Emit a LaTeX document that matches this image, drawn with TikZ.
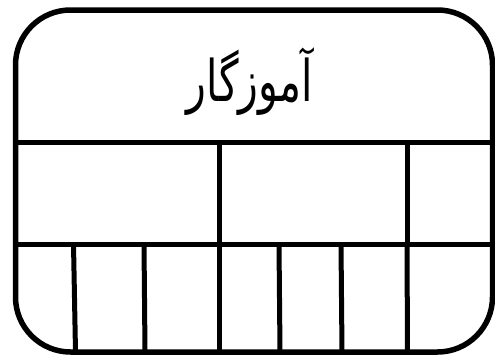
\documentclass[tikz,border=0pt]{standalone}
\usepackage{fontspec}
\newfontfamily\arabicfont[Script=Arabic]{DejaVu Sans}
\TeXXeTstate=1
\begin{document}
\begin{tikzpicture}[x=1pt,y=-1pt,
  frame/.style={draw=black,line width=5.5pt,rounded corners=55pt},
  divider/.style={draw=black,line width=5pt},
  title/.style={font=\arabicfont\fontsize{41}{48}\selectfont,inner sep=0pt}]
\useasboundingbox (0,0) rectangle (495,356);
\coordinate (tl) at (15.5,10);
\coordinate (br) at (492.5,352);
\draw[frame] (tl) rectangle (br);
% horizontal dividers
\coordinate (h1l) at (15.5,142); \coordinate (h1r) at (492.5,142);
\coordinate (h2l) at (15.5,244); \coordinate (h2r) at (492.5,244);
\draw[divider] (h1l) -- (h1r);
\draw[divider] (h2l) -- (h2r);
% middle row verticals
\foreach \x/\n in {219/a,407/b}{
  \coordinate (m\n t) at (\x,142); \coordinate (m\n b) at (\x,244);
  \draw[divider] (m\n t) -- (m\n b);
}
% bottom row verticals
\foreach \xt/\xb/\n in {73.5/75.5/c,144/145/d,219/219/e,279/280/f,341/342/g,407/407.5/h}{
  \coordinate (b\n t) at (\xt,244); \coordinate (b\n b) at (\xb,352);
  \draw[divider] (b\n t) -- (b\n b);
}
\node[title] (t) at (250,82) {\scalebox{1}[1.4]{\beginR آموزگار\endR}};
\end{tikzpicture}
\end{document}
